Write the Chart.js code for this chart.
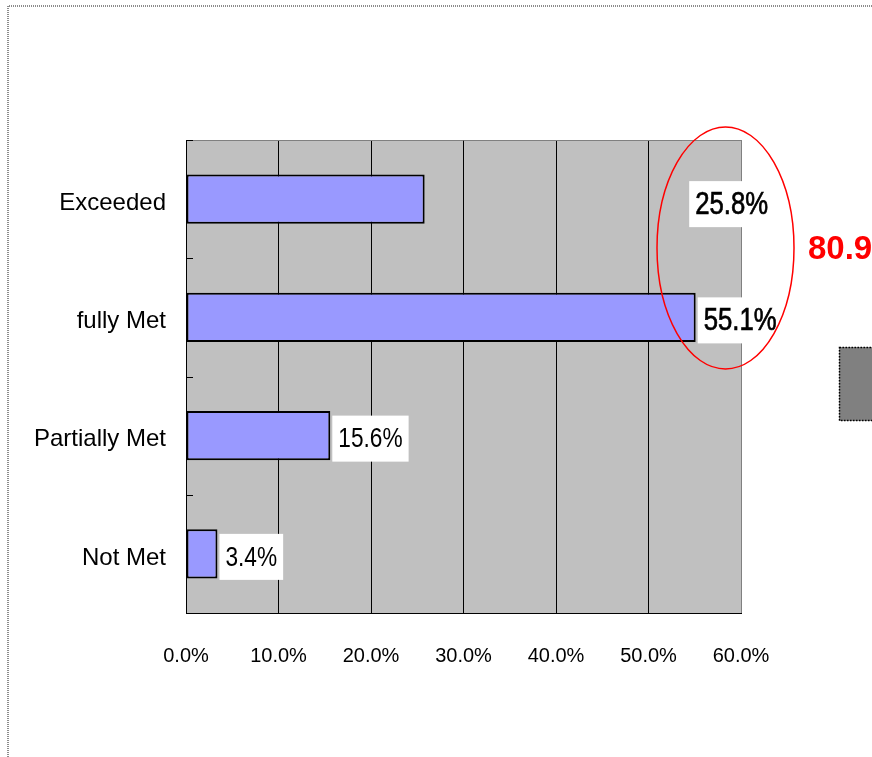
<!DOCTYPE html>
<html lang="en">
<head>
<meta charset="UTF-8" />
<title>Rating Distribution</title>
<script src="https://cdn.jsdelivr.net/npm/chart.js"></script>
<style>
  html, body { margin: 0; padding: 0; background: #fff; }
  canvas { display: block; }
</style>
</head>
<body>
<canvas id="ratingChart" width="872" height="757"></canvas>

<script>
  const categories = ["Exceeded", "fully Met", "Partially Met", "Not Met"];
  const shares = [25.8, 55.1, 15.6, 3.4];
  const xTicks = [0, 10, 20, 30, 40, 50, 60];
  const combinedShare = 80.9;   // Exceeded + fully Met
  const circledRows = [0, 1];

  const FONT = "'Liberation Sans', Arial, sans-serif";

  // draws text narrowed horizontally; heavy adds a thin outline
  function narrowText(ctx, text, x, y, size, sx, heavy) {
    ctx.save();
    ctx.font = `${size}px ${FONT}`;
    ctx.translate(x, y);
    ctx.scale(sx, 1);
    ctx.textBaseline = "middle";
    ctx.fillText(text, 0, 0);
    if (heavy) {
      ctx.strokeStyle = ctx.fillStyle;
      ctx.lineWidth = 0.7;
      ctx.strokeText(text, 0, 0);
    }
    ctx.restore();
  }

  function textWidth(ctx, text, size, sx) {
    ctx.save();
    ctx.font = `${size}px ${FONT}`;
    const w = ctx.measureText(text).width * sx;
    ctx.restore();
    return w;
  }

  // white page + grey plot area
  const plotBackground = {
    id: "plotBackground",
    beforeDraw(chart) {
      const { ctx, chartArea: a } = chart;
      ctx.save();
      ctx.fillStyle = "#fff";
      ctx.fillRect(0, 0, chart.width, chart.height);
      ctx.fillStyle = "#c0c0c0";
      ctx.fillRect(a.left, a.top, a.right - a.left, a.bottom - a.top);
      ctx.restore();
    }
  };

  // percentage labels in white boxes next to the bars
  const valueLabels = {
    id: "valueLabels",
    afterDatasetsDraw(chart) {
      const ctx = chart.ctx;
      const xs = chart.scales.x;
      const bars = chart.getDatasetMeta(0).data;
      bars.forEach((bar, i) => {
        const big = circledRows.includes(i);
        const size = big ? 31 : 28;
        const sx = big ? 0.83 : 0.81;
        const text = shares[i].toFixed(1) + "%";
        const w = textWidth(ctx, text, size, sx);
        let left = bar.x + 2;
        let cy = bar.y + 3;
        if (i === 0) {
          // the Exceeded label was moved out inside the circle, over the fully Met one
          left = xs.getPixelForValue(54.4);
          cy = bar.y + 5;
        }
        ctx.save();
        ctx.fillStyle = "#fff";
        ctx.fillRect(left, cy - 23, w + 12, 46);
        ctx.fillStyle = "#000";
        narrowText(ctx, text, left + 6, cy + 1, size, sx, big);
        ctx.restore();
      });
    }
  };

  const decorations = {
    id: "decorations",
    afterDraw(chart) {
      const { ctx, chartArea: a } = chart;
      const ys = chart.scales.y;
      ctx.save();

      // grey top edge of the plot
      ctx.strokeStyle = "#808080";
      ctx.lineWidth = 1;
      ctx.beginPath();
      ctx.moveTo(a.left, a.top + 0.5);
      ctx.lineTo(a.right, a.top + 0.5);
      ctx.stroke();

      // small inward ticks between categories
      ctx.strokeStyle = "#000";
      for (let i = 0; i <= categories.length; i++) {
        const y = Math.round(ys.getPixelForValue(i - 0.5)) + 0.5;
        ctx.beginPath();
        ctx.moveTo(a.left, y);
        ctx.lineTo(a.left + 7, y);
        ctx.stroke();
      }

      // red ring around the top two results
      ctx.strokeStyle = "#ff0000";
      ctx.lineWidth = 1.5;
      ctx.beginPath();
      ctx.ellipse(725.5, 248, 68.5, 121, 0, 0, Math.PI * 2);
      ctx.stroke();

      ctx.fillStyle = "#ff0000";
      ctx.font = `bold 33px ${FONT}`;
      ctx.textBaseline = "middle";
      ctx.fillText(combinedShare.toFixed(1) + "%", 808, 250);

      // grey block at the right edge
      ctx.fillStyle = "#808080";
      ctx.fillRect(839, 347, 40, 74);
      ctx.strokeStyle = "#000";
      ctx.lineWidth = 1.5;
      ctx.setLineDash([1.5, 1.5]);
      ctx.strokeRect(839.5, 347.5, 40, 73);

      // dotted page frame
      ctx.strokeStyle = "#8c8c8c";
      ctx.lineWidth = 2;
      ctx.setLineDash([1, 1]);
      ctx.beginPath();
      ctx.moveTo(8, chart.height);
      ctx.lineTo(8, 6);
      ctx.lineTo(chart.width, 6);
      ctx.stroke();

      ctx.restore();
    }
  };

  new Chart(document.getElementById("ratingChart"), {
    type: "bar",
    data: {
      labels: categories,
      datasets: [{
        data: shares,
        backgroundColor: "#9999ff",
        borderColor: "#000",
        borderWidth: 2,
        borderSkipped: false,
        barPercentage: 0.415,
        categoryPercentage: 1
      }]
    },
    options: {
      indexAxis: "y",
      responsive: false,
      animation: false,
      layout: { padding: { top: 140, right: 131, bottom: 0, left: 0 } },
      plugins: {
        legend: { display: false },
        tooltip: { enabled: false }
      },
      scales: {
        x: {
          min: 0,
          max: 60,
          afterBuildTicks(scale) {
            scale.ticks = xTicks.map(v => ({ value: v }));
          },
          afterFit(scale) { scale.height = 144; },
          grid: {
            color: c => (c.tick && c.tick.value === 60 ? "#808080" : "#000"),
            lineWidth: 1,
            drawTicks: false
          },
          border: { color: "#000", width: 1 },
          ticks: {
            color: "#000",
            font: { family: FONT, size: 20 },
            padding: 31,
            callback: v => Number(v).toFixed(1) + "%"
          }
        },
        y: {
          afterFit(scale) { scale.width = 186; },
          grid: { drawOnChartArea: false, drawTicks: false },
          border: { color: "#000", width: 1 },
          ticks: {
            color: "#000",
            font: { family: FONT, size: 24 },
            padding: 20,
            labelOffset: 4
          }
        }
      }
    },
    plugins: [plotBackground, valueLabels, decorations]
  });
</script>
</body>
</html>
